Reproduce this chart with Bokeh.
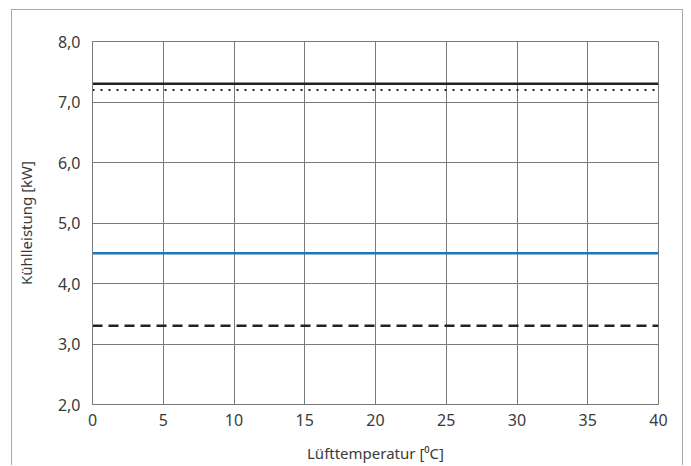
from bokeh.plotting import figure
from bokeh.models import FixedTicker, Range1d
from bokeh.embed import file_html
from bokeh.resources import INLINE

x_temp = [0, 40]
series_top_solid = [7.3, 7.3]
series_dotted = [7.2, 7.2]
series_blue = [4.5, 4.5]
series_dashed = [3.3, 3.3]

x_ticks = [0, 5, 10, 15, 20, 25, 30, 35, 40]
y_ticks = [2.0, 3.0, 4.0, 5.0, 6.0, 7.0, 8.0]
y_tick_labels = ["2,0", "3,0", "4,0", "5,0", "6,0", "7,0", "8,0"]

FONT = "Noto Sans"
TXT = "#3a3a3a"
GRID = "#7a7a7a"

p = figure(width=672, height=456, output_backend="svg", toolbar_location=None,
           x_range=Range1d(0, 40), y_range=Range1d(2, 8),
           min_border_left=80, min_border_right=26, min_border_top=31, min_border_bottom=62)
p.styles = {"margin-left": "11px", "margin-top": "9px",
            "border-left": "1px solid #a8a8a8", "border-top": "1px solid #a8a8a8",
            "border-right": "1px solid #a8a8a8"}
p.background_fill_color = "white"
p.border_fill_color = "white"
p.outline_line_color = GRID
p.outline_line_width = 1

p.xaxis.ticker = FixedTicker(ticks=x_ticks)
p.yaxis.ticker = FixedTicker(ticks=y_ticks)
p.yaxis.major_label_overrides = {t: l for t, l in zip(y_ticks, y_tick_labels)}
p.xaxis.major_label_overrides = {t: str(t) for t in x_ticks}

for ax in (p.xaxis, p.yaxis):
    ax.major_tick_line_color = None
    ax.minor_tick_line_color = None
    ax.axis_line_color = GRID
    ax.major_label_text_font = FONT
    ax.major_label_text_font_size = "16px"
    ax.major_label_text_color = TXT
    ax.axis_label_text_font = FONT
    ax.axis_label_text_font_size = "15px"
    ax.axis_label_text_font_style = "normal"
    ax.axis_label_text_color = TXT

p.xaxis.axis_label = "Lüfttemperatur [⁰C]"
p.yaxis.axis_label = "Kühlleistung [kW]"
p.xaxis.major_label_standoff = 3
p.xaxis.axis_label_standoff = 14
p.yaxis.major_label_standoff = 6
p.yaxis.axis_label_standoff = 19

p.xgrid.grid_line_color = GRID
p.ygrid.grid_line_color = GRID
p.xgrid.grid_line_width = 1
p.ygrid.grid_line_width = 1

p.line(x_temp, series_top_solid, line_color="#222222", line_width=2.5)
p.line(x_temp, series_dotted, line_color="#222222", line_width=2, line_dash="2 6")
p.line(x_temp, series_blue, line_color="#1f78b4", line_width=2.5)
p.line(x_temp, series_dashed, line_color="#222222", line_width=2.5, line_dash="10 6")

open("out.html", "w").write(file_html(p, INLINE))
